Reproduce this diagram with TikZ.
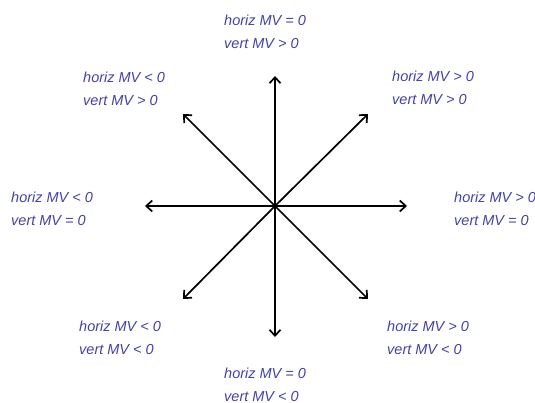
\documentclass[tikz,border=0pt]{standalone}
\usepackage{fontspec}
\setmainfont{Liberation Sans}
\usetikzlibrary{arrows.meta}
\definecolor{lbl}{RGB}{66,66,168}
\begin{document}
\begin{tikzpicture}[x=1pt,y=-1pt,
  arr/.style={line width=1.7pt,-{Straight Barb[length=6pt,width=11pt,line width=1.7pt]}},
  lab/.style={anchor=west,inner sep=0pt,align=left,text=lbl,
    font=\fontsize{14.5}{23}\selectfont\itshape}]
\useasboundingbox (0,0) rectangle (535,403);
\coordinate (c) at (275,206);
\coordinate (n) at (275,76);
\coordinate (s) at (275,337);
\coordinate (w) at (145,206);
\coordinate (e) at (407,206);
\coordinate (nw) at (183,114);
\coordinate (ne) at (368,114);
\coordinate (sw) at (183,299);
\coordinate (se) at (368,299);
\foreach \t in {n,s,w,e,nw,ne,sw,se} \draw[arr] (c) -- (\t);
\node[lab] (ln) at (224,31.5) {horiz MV = 0\\vert MV > 0};
\node[lab] (lnw) at (83,89) {horiz MV < 0\\vert MV > 0};
\node[lab] (lne) at (392,88) {horiz MV > 0\\vert MV > 0};
\node[lab] (lw) at (11,209) {horiz MV < 0\\vert MV = 0};
\node[lab] (le) at (454,209) {horiz MV > 0\\vert MV = 0};
\node[lab] (lsw) at (79,337.5) {horiz MV < 0\\vert MV < 0};
\node[lab] (lse) at (387,337.5) {horiz MV > 0\\vert MV < 0};
\node[lab] (ls) at (224,384.5) {horiz MV = 0\\vert MV < 0};
\end{tikzpicture}
\end{document}
